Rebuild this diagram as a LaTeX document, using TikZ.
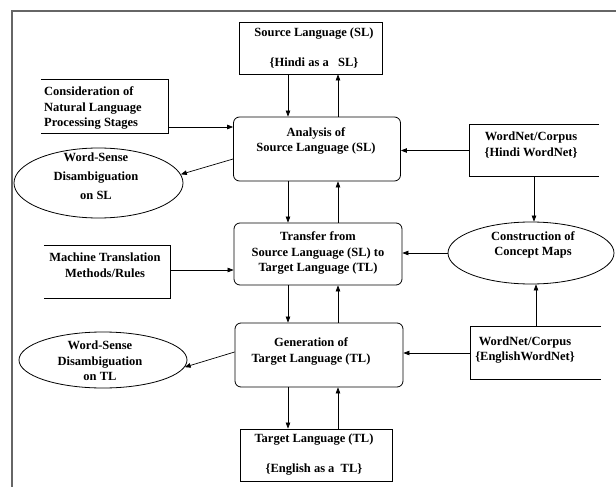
\documentclass[tikz,border=0pt]{standalone}
\usepackage{fontspec}
\setmainfont{Liberation Serif}
\usetikzlibrary{arrows.meta,shapes.geometric}
\begin{document}
\begin{tikzpicture}[x=1pt,y=-1pt,
  every node/.style={font=\fontsize{12.5}{15.5}\selectfont\bfseries},
  sq/.style={draw=black, line width=0.8pt, inner sep=0pt},
  rb/.style={sq, rounded corners=6pt},
  hid/.style={inner sep=0pt},
  ell/.style={draw=black, ellipse, line width=0.8pt, inner sep=0pt},
  txt/.style={align=center, inner sep=0pt},
  edge3/.style={draw=black, line width=0.8pt},
  arr/.style={-{Triangle[length=6pt,width=4.5pt]}, line width=0.7pt},
  frameline/.style={draw=black!60, line width=1.3pt}]
\useasboundingbox (0,0) rectangle (616,487);
\draw[frameline] (12,487) -- (12,11) -- (616,11);

% central column
\node[sq, minimum width=143pt, minimum height=52pt] (src) at (311,48) {};
\node[txt] (srct) at (314,48) {Source Language (SL)\\[14.5pt]\{Hindi as a\ \ \ SL\}};
\node[rb, minimum width=167pt, minimum height=64pt] (ana) at (317,149) {};
\node[txt] (anat) at (316,141) {Analysis of\\Source Language (SL)};
\node[rb, minimum width=168pt, minimum height=62pt] (tr) at (318,254) {};
\node[txt] (trt) at (318,253) {Transfer from\\Source Language (SL) to\\Target Language (TL)};
\node[rb, minimum width=168pt, minimum height=64pt] (gen) at (319,355) {};
\node[txt] (gent) at (311,351.5) {Generation of\\Target Language (TL)};
\node[sq, minimum width=152pt, minimum height=52pt] (tgt) at (316,455) {};
\node[txt] (tgtt) at (314,455) {Target Language (TL)\\[14.5pt]\{English as a\ \ TL\}};

% left side
\node[hid, minimum width=127pt, minimum height=53pt] (cons) at (104.5,106.5) {};
\draw[edge3] (cons.north west) -- (cons.north east) -- (cons.south east) -- (cons.south west);
\node[txt, align=left, anchor=west] (const) at (44,108) {Consideration of\\Natural Language\\Processing Stages};
\node[hid, minimum width=126pt, minimum height=52pt] (mt) at (107,272) {};
\draw[edge3] (mt.north west) -- (mt.north east) -- (mt.south east) -- (mt.south west);
\node[txt] (mtt) at (105,265) {Machine Translation\\Methods/Rules};
\node[ell, minimum width=169pt, minimum height=70pt] (wsl) at (98.5,183) {};
\node[txt, font=\fontsize{12.5}{19}\selectfont\bfseries] (wslt) at (96,176) {Word-Sense\\Disambiguation\\on SL};
\node[ell, minimum width=168pt, minimum height=56pt] (wtl) at (103,360) {};
\node[txt] (wtlt) at (100,361) {Word-Sense\\Disambiguation\\on TL};

% right side
\node[hid, minimum width=129pt, minimum height=51pt] (wnh) at (534.5,150.5) {};
\draw[edge3] (wnh.north east) -- (wnh.north west) -- (wnh.south west) -- (wnh.south east);
\node[txt] (wnht) at (531,145) {WordNet/Corpus\\\{Hindi WordNet\}};
\node[hid, minimum width=130pt, minimum height=52pt] (wne) at (536,353) {};
\draw[edge3] (wne.north east) -- (wne.north west) -- (wne.south west) -- (wne.south east);
\node[txt] (wnet) at (525,350) {WordNet/Corpus\\\{EnglishWordNet\}};
\node[ell, minimum width=166pt, minimum height=62pt] (cm) at (531,253) {};
\node[txt] (cmt) at (533,245) {Construction of\\Concept Maps};

% connectors
\coordinate (cl) at (288,0);
\coordinate (cr) at (338,0);
\draw[arr] (src.south -| cl) -- (ana.north -| cl);
\draw[arr] (ana.north -| cr) -- (src.south -| cr);
\draw[arr] (ana.south -| cl) -- (tr.north -| cl);
\draw[arr] (tr.north -| cr) -- (ana.south -| cr);
\draw[arr] (tr.south -| cl) -- (gen.north -| cl);
\draw[arr] (gen.north -| cr) -- (tr.south -| cr);
\draw[arr] (gen.south -| cl) -- (tgt.north -| cl);
\draw[arr] (tgt.north -| cr) -- (gen.south -| cr);

\coordinate (y1) at (0,127);
\draw[arr] (cons.east |- y1) -- (ana.west |- y1);
\coordinate (y2) at (0,270);
\draw[arr] (mt.east |- y2) -- (tr.west |- y2);
\draw[arr] (wnh.west) -- (wnh.west -| ana.east);
\draw[arr] (cm.west) -- (cm.west -| tr.east);
\draw[arr] (wne.west) -- (wne.west -| gen.east);
\coordinate (y3) at (0,159);
\draw[arr] (ana.west |- y3) -- (wsl.6);
\coordinate (y4) at (0,352);
\draw[arr] (gen.west |- y4) -- (wtl.-5);
\coordinate (cx1) at (534,0);
\draw[arr] (wnh.south -| cx1) -- (cm.north -| cx1);
\coordinate (cx2) at (536,0);
\draw[arr] (wne.north -| cx2) -- (cm.south -| cx2);
\end{tikzpicture}
\end{document}
